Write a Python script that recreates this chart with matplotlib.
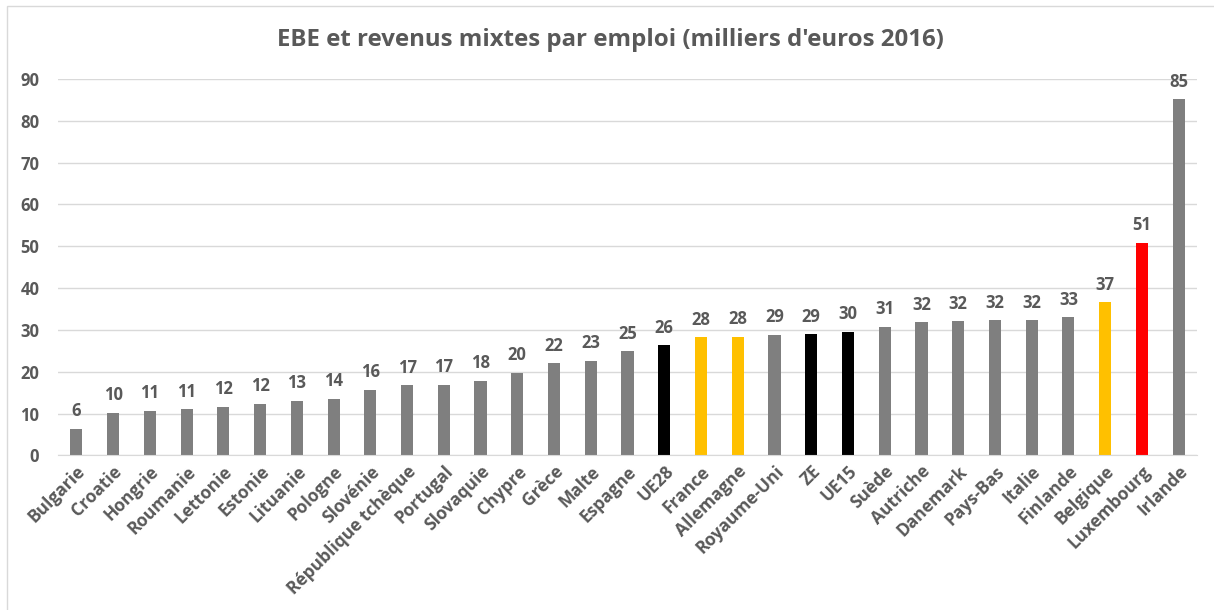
import matplotlib.pyplot as plt
from matplotlib.patches import Rectangle

pays = ["Bulgarie", "Croatie", "Hongrie", "Roumanie", "Lettonie", "Estonie",
        "Lituanie", "Pologne", "Slovénie", "République tchèque", "Portugal",
        "Slovaquie", "Chypre", "Grèce", "Malte", "Espagne", "UE28", "France",
        "Allemagne", "Royaume-Uni", "ZE", "UE15", "Suède", "Autriche",
        "Danemark", "Pays-Bas", "Italie", "Finlande", "Belgique", "Luxembourg",
        "Irlande"]
ebe = [6.4, 10.2, 10.7, 11.1, 11.7, 12.4, 13.1, 13.6, 15.7, 16.8, 16.9,
       17.9, 19.8, 22.1, 22.7, 24.9, 26.3, 28.3, 28.4, 28.9, 29.0, 29.6,
       30.8, 31.9, 32.1, 32.3, 32.3, 33.1, 36.6, 50.9, 85.1]

# couleurs : agrégats en noir, France/Allemagne/Belgique en jaune, Luxembourg en rouge
agregats = ["UE28", "ZE", "UE15"]
jaunes = ["France", "Allemagne", "Belgique"]
couleurs = []
for p in pays:
    if p in agregats:
        couleurs.append("#000000")
    elif p in jaunes:
        couleurs.append("#FFC000")
    elif p == "Luxembourg":
        couleurs.append("#FF0000")
    else:
        couleurs.append("#7F7F7F")

plt.rcParams['font.family'] = ['Open Sans', 'DejaVu Sans']
gris = "#595959"

fig = plt.figure(figsize=(12.14, 6.1), dpi=100)
ax = fig.add_axes([0.0478, 0.2533, 0.9382, 0.6172])

x = list(range(len(pays)))
ax.bar(x, ebe, width=0.33, color=couleurs, zorder=3)
for xi, v in zip(x, ebe):
    ax.text(xi, v + 2.0, "{:.0f}".format(v), ha="center", va="bottom",
            fontsize=12, fontweight="bold", color=gris)

ax.set_xlim(-0.5, len(pays) - 0.5)
ax.set_ylim(0, 90)
ax.set_yticks(range(0, 91, 10))
ax.yaxis.grid(True, color="#D9D9D9", linewidth=1.0, zorder=0)
ax.tick_params(axis="both", length=0, colors=gris, labelsize=12)
ax.tick_params(axis="y", pad=13.5)
ax.set_xticks(x)
ax.set_xticklabels(pays, rotation=45, ha="right", va="top",
                   rotation_mode="anchor", fontweight="bold", fontsize=12.5)
ax.tick_params(axis="x", pad=5)
for lab in ax.get_yticklabels():
    lab.set_fontweight("bold")
for s in ["top", "right", "left"]:
    ax.spines[s].set_visible(False)
ax.spines["bottom"].set_color("#D9D9D9")
ax.spines["bottom"].set_zorder(4)

fig.text(0.503, 0.934, "EBE et revenus mixtes par emploi (milliers d'euros 2016)",
         ha="center", va="center", fontsize=17.3, fontweight="bold", color=gris)

# cadre du graphique
fig.patches.append(Rectangle((7 / 1214, -0.01), 1.1, 1 - 6 / 610 + 0.01,
                             transform=fig.transFigure, fill=False,
                             edgecolor="#D9D9D9", linewidth=1.0))

fig.savefig("out.png", dpi=100)
